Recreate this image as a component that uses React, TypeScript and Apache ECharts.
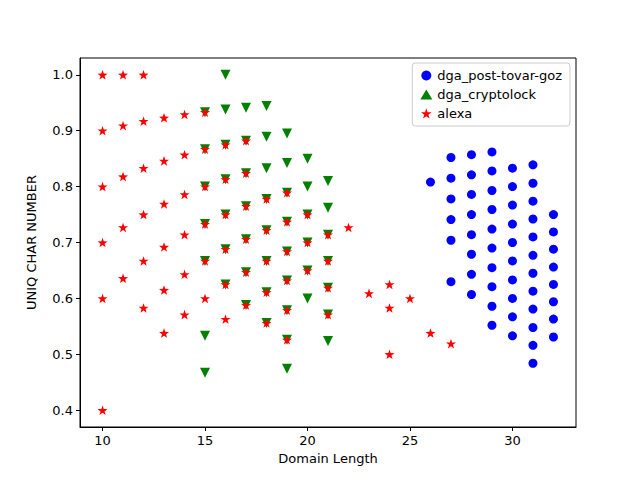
import { useEffect, useRef } from "react";
import * as echarts from "echarts";

// [domain length, uniq char ratio]
const dgaPostTovarGoz: number[][] = [
  [26, 0.808],
  [27, 0.852], [27, 0.815], [27, 0.778], [27, 0.741], [27, 0.704], [27, 0.63],
  [28, 0.857], [28, 0.821], [28, 0.786], [28, 0.75], [28, 0.714], [28, 0.679], [28, 0.643], [28, 0.607],
  [29, 0.862], [29, 0.828], [29, 0.793], [29, 0.759], [29, 0.724], [29, 0.69], [29, 0.655], [29, 0.621], [29, 0.586], [29, 0.552],
  [30, 0.833], [30, 0.8], [30, 0.767], [30, 0.733], [30, 0.7], [30, 0.667], [30, 0.633], [30, 0.6], [30, 0.567], [30, 0.533],
  [31, 0.839], [31, 0.806], [31, 0.774], [31, 0.742], [31, 0.71], [31, 0.677], [31, 0.645], [31, 0.613], [31, 0.581], [31, 0.548], [31, 0.516], [31, 0.484],
  [32, 0.75], [32, 0.719], [32, 0.688], [32, 0.656], [32, 0.625], [32, 0.594], [32, 0.563], [32, 0.531],
];

const dgaCryptolock: number[][] = [
  [15, 0.933], [15, 0.867], [15, 0.8], [15, 0.733], [15, 0.667], [15, 0.533], [15, 0.467],
  [16, 1.0], [16, 0.938], [16, 0.875], [16, 0.813], [16, 0.75], [16, 0.688], [16, 0.625],
  [17, 0.941], [17, 0.882], [17, 0.824], [17, 0.765], [17, 0.706], [17, 0.647], [17, 0.588],
  [18, 0.944], [18, 0.889], [18, 0.833], [18, 0.778], [18, 0.722], [18, 0.667], [18, 0.611], [18, 0.556],
  [19, 0.895], [19, 0.842], [19, 0.789], [19, 0.737], [19, 0.684], [19, 0.632], [19, 0.579], [19, 0.526], [19, 0.474],
  [20, 0.85], [20, 0.8], [20, 0.75], [20, 0.7], [20, 0.65], [20, 0.6],
  [21, 0.81], [21, 0.762], [21, 0.714], [21, 0.667], [21, 0.619], [21, 0.571], [21, 0.524],
];

const alexa: number[][] = [
  [10, 1.0], [10, 0.9], [10, 0.8], [10, 0.7], [10, 0.6], [10, 0.4],
  [11, 1.0], [11, 0.909], [11, 0.818], [11, 0.727], [11, 0.636],
  [12, 1.0], [12, 0.917], [12, 0.833], [12, 0.75], [12, 0.667], [12, 0.583],
  [13, 0.923], [13, 0.846], [13, 0.769], [13, 0.692], [13, 0.615], [13, 0.538],
  [14, 0.929], [14, 0.857], [14, 0.786], [14, 0.714], [14, 0.643], [14, 0.571],
  [15, 0.933], [15, 0.867], [15, 0.8], [15, 0.733], [15, 0.667], [15, 0.6],
  [16, 0.875], [16, 0.813], [16, 0.75], [16, 0.688], [16, 0.625], [16, 0.563],
  [17, 0.882], [17, 0.824], [17, 0.765], [17, 0.706], [17, 0.647], [17, 0.588],
  [18, 0.778], [18, 0.722], [18, 0.667], [18, 0.611], [18, 0.556],
  [19, 0.789], [19, 0.737], [19, 0.684], [19, 0.632], [19, 0.579], [19, 0.526],
  [20, 0.75], [20, 0.7], [20, 0.65],
  [21, 0.714], [21, 0.667], [21, 0.619], [21, 0.571],
  [22, 0.727], [23, 0.609], [24, 0.625], [24, 0.583], [24, 0.5], [25, 0.6], [26, 0.538], [27, 0.519],
];

const xTicks = [10, 15, 20, 25, 30];
const yTicks = [0.4, 0.5, 0.6, 0.7, 0.8, 0.9, 1.0];

const STAR = "path://M0,-10L2.35,-3.24L9.51,-3.09L3.8,1.24L5.88,8.09L0,4L-5.88,8.09L-3.8,1.24L-9.51,-3.09L-2.35,-3.24Z";
const FONT = "DejaVu Sans";

export default function App() {
  const ref = useRef<HTMLDivElement>(null);

  useEffect(() => {
    if (!ref.current) return;
    const chart = echarts.init(ref.current, null, { renderer: "svg" });
    const axisCommon = {
      axisLine: { show: true, onZero: false, lineStyle: { color: "#000" } },
      axisTick: { show: true, length: 4, lineStyle: { color: "#000" } },
      axisLabel: { color: "#000", fontFamily: FONT, fontSize: 13 },
      splitLine: { show: false },
      nameLocation: "middle" as const,
      nameTextStyle: { color: "#000", fontFamily: FONT, fontSize: 13 },
    };
    chart.setOption({
      animation: false,
      backgroundColor: "#fff",
      grid: { left: 80, right: 64, top: 58, bottom: 53, show: true, borderColor: "#000", borderWidth: 1 },
      legend: {
        orient: "vertical",
        right: 70,
        top: 63,
        itemGap: 6,
        itemWidth: 12,
        itemHeight: 10,
        padding: [6, 8, 6, 8],
        borderColor: "#ccc",
        borderWidth: 1,
        borderRadius: 3,
        textStyle: { color: "#000", fontFamily: FONT, fontSize: 13 },
      },
      xAxis: {
        ...axisCommon,
        type: "value",
        min: 8.9,
        max: 33.1,
        name: "Domain Length",
        nameGap: 24,
        axisTick: { ...axisCommon.axisTick, customValues: xTicks },
        axisLabel: { ...axisCommon.axisLabel, customValues: xTicks, margin: 7 },
      },
      yAxis: {
        ...axisCommon,
        type: "value",
        min: 0.37,
        max: 1.03,
        name: "UNIQ CHAR NUMBER",
        nameGap: 42,
        axisTick: { ...axisCommon.axisTick, customValues: yTicks },
        axisLabel: { ...axisCommon.axisLabel, customValues: yTicks, formatter: (v: number) => v.toFixed(1), margin: 7 },
      },
      series: [
        { name: "dga_post-tovar-goz", type: "scatter", data: dgaPostTovarGoz, symbol: "circle", symbolSize: 9, itemStyle: { color: "#0000ff", opacity: 1 } },
        { name: "dga_cryptolock", type: "scatter", data: dgaCryptolock, symbol: "triangle", symbolRotate: 180, symbolSize: 10, itemStyle: { color: "#008000", opacity: 1 } },
        { name: "alexa", type: "scatter", data: alexa, symbol: STAR, symbolKeepAspect: true, symbolSize: 10, itemStyle: { color: "#ff0000", opacity: 1 } },
      ],
    });
    return () => chart.dispose();
  }, []);

  return <div ref={ref} style={{ width: 640, height: 480, margin: -8 }} />;
}
